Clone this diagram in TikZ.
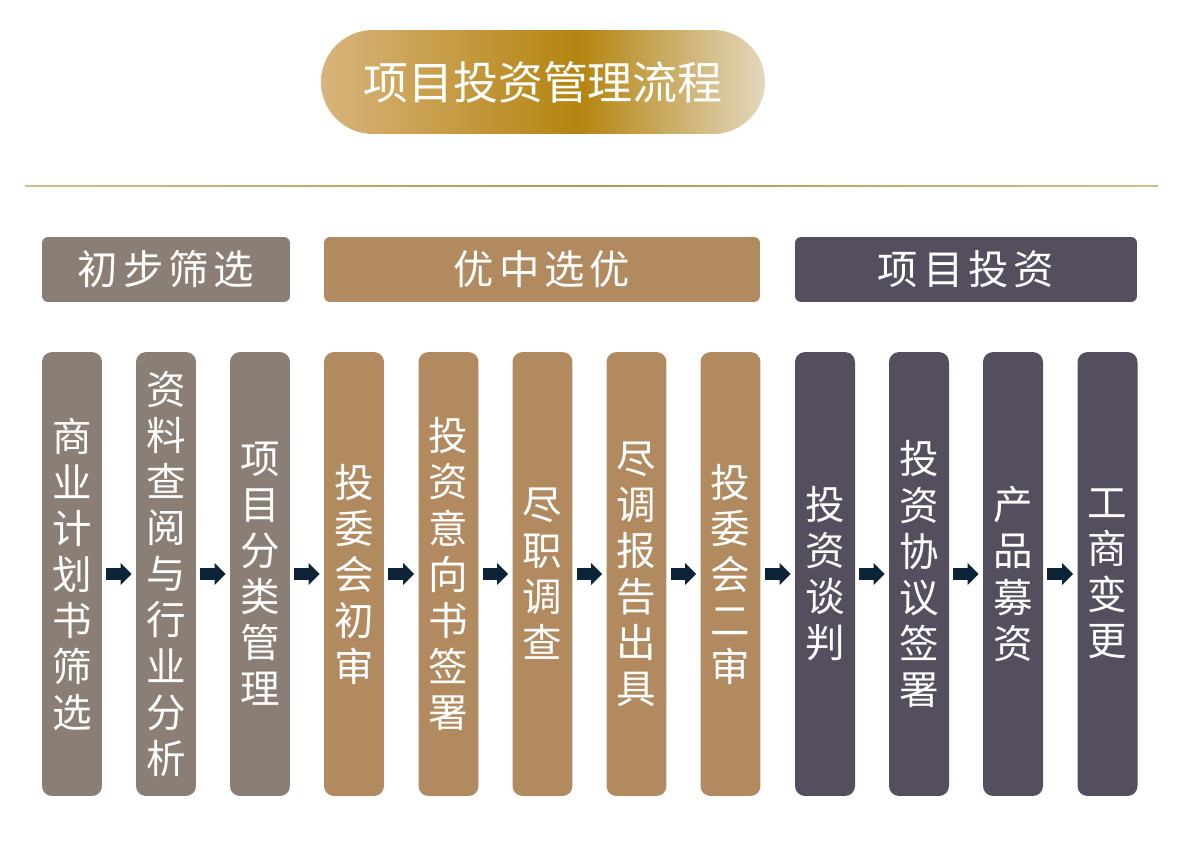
\documentclass[tikz,border=0pt]{standalone}
\usepackage{fontspec}
\setmainfont{Noto Sans CJK SC}
\usepackage{tikz}
\usetikzlibrary{arrows.meta, positioning}
\definecolor{greybrown}{HTML}{8B7E75}
\definecolor{stagetan}{HTML}{B28A60}
\definecolor{stagepurple}{HTML}{554E5E}
\definecolor{arrowblue}{HTML}{0D2338}
\definecolor{goldL}{HTML}{D8B47D}
\definecolor{goldC}{HTML}{B4840F}
\definecolor{goldR}{HTML}{E3D7BE}
\definecolor{lineend}{HTML}{D6BC8A}
\definecolor{linemid}{HTML}{B8954F}
\pgfdeclarehorizontalshading{titlegold}{100bp}{color(0bp)=(goldL); color(25bp)=(goldL); color(54bp)=(goldC); color(75bp)=(goldR); color(100bp)=(goldR)}
\tikzset{
	stagecol/.style={rounded corners=0.2cm, minimum width=1.2cm, minimum height=8.88cm,
		inner sep=0pt, text=white, align=center, font=\fontsize{22.5pt}{26.2pt}\selectfont},
	stagehead/.style={rounded corners=0.12cm, minimum height=1.3cm, inner sep=0pt,
		text=white, font=\fontsize{23pt}{26pt}\selectfont\addfontfeature{LetterSpace=12}},
	flowarrow/.style={arrowblue, line width=0.23cm,
		-{Triangle[length=0.22cm 0 0, width=0.44cm 0 0, line width=0pt]},
		shorten <=0.08cm, shorten >=0.08cm}
}
\newcommand{\stagecol}[4]{
	\node[stagecol, fill=#3] (#1) at (#2, 574) {#4};
}

\begin{document}
\begin{tikzpicture}[x=0.02cm, y=-0.02cm]
	\useasboundingbox (0,0) rectangle (1181,842);
	% Title
	\node[shade, shading=titlegold, rounded corners=1.04cm, minimum width=8.88cm, minimum height=2.08cm,
		inner sep=0pt, text=white, font=\fontsize{25.6pt}{28pt}\selectfont] (title) at (543, 82) {项目投资管理流程};
	\shade[left color=lineend, right color=lineend, middle color=linemid] (25,185.3) rectangle (1158,186.8);
	% Stage headers
	\node[stagehead, fill=greybrown, minimum width=4.96cm] (head1) at (166, 269.5) {初步筛选};
	\node[stagehead, fill=stagetan, minimum width=8.72cm] (head2) at (542, 269.5) {优中选优};
	\node[stagehead, fill=stagepurple, minimum width=6.84cm] (head3) at (966, 269.5) {项目投资};
	% Steps
	\stagecol{c1}{72}{greybrown}{商\\业\\计\\划\\书\\筛\\选}
	\stagecol{c2}{166}{greybrown}{资\\料\\查\\阅\\与\\行\\业\\分\\析}
	\stagecol{c3}{260}{greybrown}{项\\目\\分\\类\\管\\理}
	\stagecol{c4}{354}{stagetan}{投\\委\\会\\初\\审}
	\stagecol{c5}{448.5}{stagetan}{投\\资\\意\\向\\书\\签\\署}
	\stagecol{c6}{542.5}{stagetan}{尽\\职\\调\\查}
	\stagecol{c7}{636.5}{stagetan}{尽\\调\\报\\告\\出\\具}
	\stagecol{c8}{730.5}{stagetan}{投\\委\\会\\二\\审}
	\stagecol{c9}{825}{stagepurple}{投\\资\\谈\\判}
	\stagecol{c10}{919}{stagepurple}{投\\资\\协\\议\\签\\署}
	\stagecol{c11}{1013}{stagepurple}{产\\品\\募\\资}
	\stagecol{c12}{1107.5}{stagepurple}{工\\商\\变\\更}
	% Arrows
	\foreach \a/\b in {c1/c2, c2/c3, c3/c4, c4/c5, c5/c6, c6/c7, c7/c8, c8/c9, c9/c10, c10/c11, c11/c12}
		\draw[flowarrow] (\a) -- (\b);
\end{tikzpicture}
\end{document}
